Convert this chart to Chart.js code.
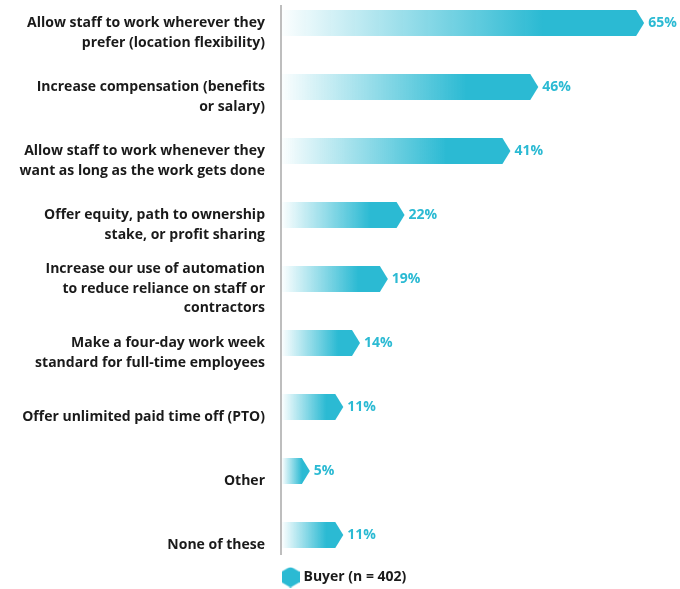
<!DOCTYPE html>
<html>
<head>
    <title>Buyer responses</title>
    <script src="https://cdn.jsdelivr.net/npm/chart.js"></script>
    <style>
        body { margin: 0; background: #fff; }
        .chart-container { width: 680px; height: 589px; }
    </style>
</head>
<body>
<div class="chart-container">
    <canvas id="buyerChart"></canvas>
</div>

<script>
    const categories = [
        ['Allow staff to work wherever they', 'prefer (location flexibility)'],
        ['Increase compensation (benefits', 'or salary)'],
        ['Allow staff to work whenever they', 'want as long as the work gets done'],
        ['Offer equity, path to ownership', 'stake, or profit sharing'],
        ['Increase our use of automation', 'to reduce reliance on staff or', 'contractors'],
        ['Make a four-day work week', 'standard for full-time employees'],
        ['Offer unlimited paid time off (PTO)'],
        ['Other'],
        ['None of these']
    ];
    const buyerValues = [65, 46, 41, 22, 19, 14, 11, 5, 11];
    const seriesLabel = 'Buyer (n = 402)';

    const teal = '#2bbad3';
    const fontFamily = '"Open Sans", Lato, sans-serif';
    Chart.defaults.font.family = fontFamily;

    // hexagon used as the legend marker
    const hex = document.createElement('canvas');
    hex.width = 18;
    hex.height = 21;
    const hctx = hex.getContext('2d');
    hctx.beginPath();
    for (let k = 0; k < 6; k++) {
        const a = (-90 + 60 * k) * Math.PI / 180;
        const px = 9 + 9 * Math.cos(a) / Math.cos(Math.PI / 6), py = 10.5 + 10.5 * Math.sin(a);
        if (k === 0) hctx.moveTo(px, py); else hctx.lineTo(px, py);
    }
    hctx.closePath();
    hctx.fillStyle = teal;
    hctx.fill();

    // gradient arrow bars + value labels
    const arrowBars = {
        id: 'arrowBars',
        beforeDatasetsDraw(chart) {
            const { ctx, chartArea } = chart;
            ctx.save();
            ctx.strokeStyle = '#a8a8a8';
            ctx.lineWidth = 1.5;
            ctx.beginPath();
            ctx.moveTo(chartArea.left - 1, chartArea.top - 18);
            ctx.lineTo(chartArea.left - 1, chartArea.bottom + 20);
            ctx.stroke();
            ctx.restore();
        },
        afterDatasetsDraw(chart) {
            const ctx = chart.ctx;
            const meta = chart.getDatasetMeta(0);
            const data = chart.data.datasets[0].data;
            ctx.save();
            meta.data.forEach((bar, i) => {
                const h = bar.height / 2;
                const tip = 8;
                const g = ctx.createLinearGradient(bar.base, 0, bar.x, 0);
                g.addColorStop(0, 'rgba(43,186,211,0.02)');
                g.addColorStop(0.72, teal);
                g.addColorStop(1, teal);
                ctx.fillStyle = g;
                ctx.beginPath();
                ctx.moveTo(bar.base, bar.y - h);
                ctx.lineTo(bar.x - tip, bar.y - h);
                ctx.lineTo(bar.x, bar.y);
                ctx.lineTo(bar.x - tip, bar.y + h);
                ctx.lineTo(bar.base, bar.y + h);
                ctx.closePath();
                ctx.fill();

                ctx.fillStyle = teal;
                ctx.font = 'bold 14px ' + fontFamily;
                ctx.textAlign = 'left';
                ctx.textBaseline = 'middle';
                ctx.fillText(data[i] + '%', bar.x + 4, bar.y);
            });
            ctx.restore();
        }
    };

    new Chart(document.getElementById('buyerChart'), {
        type: 'bar',
        data: {
            // leading blank line drops each label like the original
            labels: categories.map(l => [''].concat(l)),
            datasets: [{
                label: seriesLabel,
                data: buyerValues,
                backgroundColor: 'rgba(0,0,0,0)',
                barThickness: 26
            }]
        },
        options: {
            indexAxis: 'y',
            responsive: true,
            maintainAspectRatio: false,
            animation: false,
            layout: { padding: { top: 23, right: 8, bottom: -5, left: 0 } },
            scales: {
                x: {
                    min: 0,
                    max: 70,
                    ticks: { display: false },
                    grid: { display: false, drawTicks: false },
                    border: { display: false },
                    afterFit: s => { s.height = 32.5; }
                },
                y: {
                    offset: false,
                    grid: { display: false, drawTicks: false },
                    border: { display: false },
                    ticks: {
                        autoSkip: false,
                        padding: 17,
                        color: '#1a1a1a',
                        font: { size: 14, weight: 'bold', lineHeight: 1.4 }
                    },
                    afterFit: s => { s.width = 282; s.paddingTop = 0; s.paddingBottom = 0; }
                }
            },
            plugins: {
                tooltip: { enabled: false },
                legend: {
                    position: 'bottom',
                    align: 'start',
                    fullSize: false,
                    labels: {
                        usePointStyle: true,
                        pointStyle: hex,
                        pointStyleWidth: 12,
                        padding: 2.5,
                        color: '#1a1a1a',
                        font: { size: 14, weight: 'bold' }
                    }
                }
            }
        },
        plugins: [arrowBars]
    });
</script>
</body>
</html>
